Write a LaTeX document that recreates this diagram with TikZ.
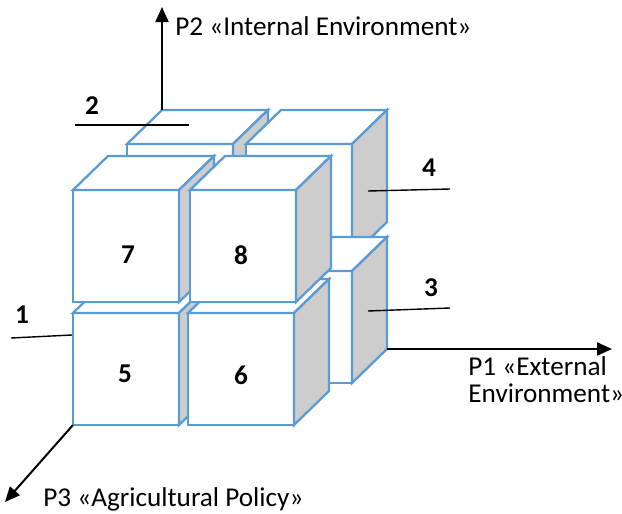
\documentclass[tikz,border=0pt]{standalone}
\usepackage{fontspec}
\setmainfont{Carlito}
\usetikzlibrary{arrows.meta}

\definecolor{cubeblue}{RGB}{91,155,213}
\definecolor{cubeside}{RGB}{205,205,205}

\tikzset{
  cubeedge/.style={draw=cubeblue, line width=1.15pt, line join=miter},
  % one box: front face anchored at its top-left corner, 106 x 112,
  % receding 35 right and 34 up
  cube/.pic={
    \draw[cubeedge, fill=white] (0,0) rectangle (106,112);
    \draw[cubeedge, fill=white] (0,0) -- (35,-34) -- (141,-34) -- (106,0) -- cycle;
    \draw[cubeedge, fill=cubeside] (106,0) -- (141,-34) -- (141,78) -- (106,112) -- cycle;
    \coordinate (-fbl) at (0,112);
    \coordinate (-btl) at (35,-34);
    \coordinate (-bbr) at (141,78);
  },
  numlabel/.style={font=\fontsize{13.6}{16}\selectfont\bfseries, inner sep=0pt},
  axislabel/.style={font=\fontsize{13.6}{13.5}\selectfont, inner sep=0pt, anchor=base west},
  leader/.style={draw=black, line width=0.7pt},
  axis/.style={draw=black, line width=1pt, -{Triangle[length=7.5pt, width=6.5pt]}}
}

\begin{document}
\begin{tikzpicture}[x=0.5pt, y=-0.5pt]
  \useasboundingbox (0,0) rectangle (622,514);

  % back layer: upper boxes, then lower boxes
  \pic (c2) at (127,144) {cube};
  \pic (c4) at (246,144) {cube};
  \pic (c1) at (127,271) {cube};
  \pic (c3) at (246,271) {cube};

  % front layer: lower boxes, then upper boxes
  \pic (c5) at (73,313) {cube};
  \pic (c6) at (188,313) {cube};
  \pic (c7) at (73,190) {cube};
  \pic (c8) at (190,190) {cube};

  % numbers on the front faces
  \node[numlabel] (n7) at (128,255) {7};
  \node[numlabel] (n8) at (241,255) {8};
  \node[numlabel] (n5) at (125,374) {5};
  \node[numlabel] (n6) at (241,375) {6};

  % numbers with leader lines
  \node[numlabel] (n2) at (92,106) {2};
  \coordinate (l2a) at (75,125);
  \coordinate (l2b) at (189,125);
  \draw[leader] (l2a) -- (l2b);

  \node[numlabel] (n1) at (22,315) {1};
  \coordinate (l1a) at (11,338);
  \coordinate (l1b) at (72,335);
  \draw[leader] (l1a) -- (l1b);

  \node[numlabel] (n4) at (429,168) {4};
  \coordinate (l4a) at (368,191);
  \coordinate (l4b) at (450,189);
  \draw[leader] (l4a) -- (l4b);

  \node[numlabel] (n3) at (431,288) {3};
  \coordinate (l3a) at (368,311);
  \coordinate (l3b) at (450,308);
  \draw[leader] (l3a) -- (l3b);

  % axes
  \coordinate (p1tip) at (612,349);
  \coordinate (p2tip) at (162,7);
  \coordinate (p3tip) at (5,502);
  \draw[axis] (c3-bbr) -- (p1tip);
  \draw[axis] (c2-btl) -- (p2tip);
  \draw[axis] (c5-fbl) -- (p3tip);

  \node[axislabel] (p2) at (175,35) {P2 «Internal Environment»};
  % two-line label: base anchor sits on the last line
  \node[axislabel, align=left] (p1) at (468,402) {P1 «External\\Environment»};
  \node[axislabel] (p3) at (43,506) {P3 «Agricultural Policy»};
\end{tikzpicture}
\end{document}
